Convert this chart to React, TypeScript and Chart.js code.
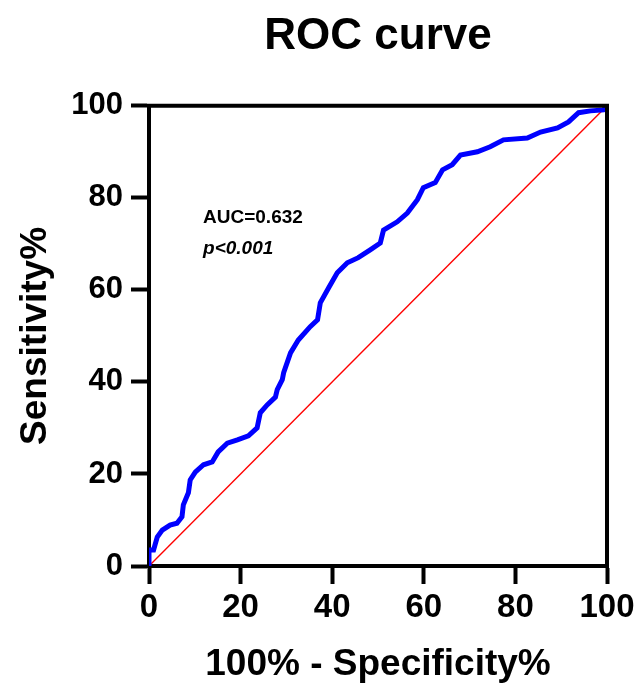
import React, { useEffect, useRef } from "react";
import { Chart, registerables } from "chart.js";

Chart.register(...registerables);

const FONT = "'Liberation Sans', Arial, Helvetica, sans-serif";

const titleText = "ROC curve";
const xTitle = "100% - Specificity%";
const yTitle = "Sensitivity%";

// 100% - Specificity% (false positive rate)
const fpr = [
  0, 0, 1, 1.8, 2.9, 4.6, 6.1, 7.2, 7.5, 8.6, 9, 10.1, 11.9, 13.8, 15.1, 17.1,
  19.3, 21.7, 23.6, 24.3, 25.8, 27.6, 28, 29.1, 29.4, 30.9, 32.6, 35.2, 36.8,
  37.4, 39.2, 41.1, 43.3, 45.7, 48.3, 50.5, 51.2, 54.2, 56.4, 58.6, 59.9, 62.5,
  64.1, 66.2, 68, 71.7, 74.5, 77.4, 82.6, 85.5, 89.2, 91.6, 93.8, 96.4, 99.2, 100,
];
// Sensitivity%
const tpr = [
  0, 3.5, 3.5, 6.3, 7.8, 8.9, 9.3, 10.7, 13.3, 15.9, 18.7, 20.4, 22, 22.6, 24.8,
  26.7, 27.4, 28.3, 30, 33.3, 35, 36.7, 38.3, 40.5, 42, 46.3, 49.1, 52, 53.5,
  57.2, 60.4, 63.7, 65.9, 67, 68.7, 70.2, 73, 74.8, 76.7, 79.6, 82.2, 83.3, 86.1,
  87.2, 89.3, 90, 91.1, 92.6, 93, 94.3, 95.2, 96.5, 98.5, 98.9, 99.1, 100,
];

const refX = [0, 100];
const refY = [0, 100];

const aucLabel = "AUC=0.632";
const pLabel = "p<0.001";

export default function App() {
  const ref = useRef<HTMLCanvasElement | null>(null);

  useEffect(() => {
    if (!ref.current) return;

    const framePlugin = {
      id: "frame",
      afterDatasetsDraw(chart: any) {
        const { ctx, chartArea } = chart;
        ctx.save();
        ctx.strokeStyle = "#000";
        ctx.lineWidth = 4;
        ctx.lineCap = "square";
        ctx.beginPath();
        ctx.moveTo(chartArea.left, chartArea.top);
        ctx.lineTo(chartArea.right, chartArea.top);
        ctx.lineTo(chartArea.right, chartArea.bottom);
        ctx.stroke();
        ctx.restore();
      },
      afterDraw(chart: any) {
        const { ctx } = chart;
        const xs = chart.scales.x;
        const ys = chart.scales.y;
        ctx.save();
        ctx.fillStyle = "#000";
        ctx.textAlign = "left";
        ctx.textBaseline = "alphabetic";
        ctx.font = `bold 19px ${FONT}`;
        ctx.fillText(aucLabel, xs.getPixelForValue(11.8), ys.getPixelForValue(74.6));
        ctx.font = `italic bold 19px ${FONT}`;
        ctx.fillText(pLabel, xs.getPixelForValue(11.8), ys.getPixelForValue(67.8));
        ctx.restore();
      },
    };

    const chart = new Chart(ref.current, {
      type: "line",
      data: {
        datasets: [
          {
            label: "ROC",
            data: fpr.map((x, i) => ({ x, y: tpr[i] })),
            borderColor: "#0000ff",
            borderWidth: 5,
            pointRadius: 0,
            tension: 0,
            fill: false,
            order: 1,
          },
          {
            label: "Reference",
            data: refX.map((x, i) => ({ x, y: refY[i] })),
            borderColor: "#ff0000",
            borderWidth: 1.4,
            pointRadius: 0,
            fill: false,
            order: 2,
          },
        ],
      },
      options: {
        animation: false,
        responsive: true,
        maintainAspectRatio: false,
        layout: { padding: { top: 0, right: 34, bottom: 0, left: 0 } },
        plugins: {
          legend: { display: false },
          tooltip: { enabled: false },
          title: {
            display: true,
            text: titleText,
            fullSize: false,
            color: "#000",
            font: { family: FONT, size: 44, weight: "bold" },
            padding: { top: 10, bottom: 43 },
          },
        },
        scales: {
          x: {
            type: "linear",
            min: 0,
            max: 100,
            afterFit(scale: any) {
              scale.height = 119;
            },
            ticks: {
              stepSize: 20,
              color: "#000",
              padding: 4,
              maxRotation: 0,
              font: { family: FONT, size: 33, weight: "bold" },
            },
            grid: {
              drawOnChartArea: false,
              drawTicks: true,
              tickLength: 18,
              tickWidth: 4,
              tickColor: "#000",
            },
            border: { display: true, color: "#000", width: 4 },
            title: {
              display: true,
              text: xTitle,
              color: "#000",
              font: { family: FONT, size: 37, weight: "bold" },
              padding: { top: 0, bottom: -2 },
            },
          },
          y: {
            type: "linear",
            min: 0,
            max: 100,
            afterFit(scale: any) {
              scale.width = 149;
            },
            ticks: {
              stepSize: 20,
              color: "#000",
              padding: 8,
              font: { family: FONT, size: 31, weight: "bold" },
            },
            grid: {
              drawOnChartArea: false,
              drawTicks: true,
              tickLength: 18,
              tickWidth: 4,
              tickColor: "#000",
            },
            border: { display: true, color: "#000", width: 4 },
            title: {
              display: true,
              text: yTitle,
              color: "#000",
              font: { family: FONT, size: 37, weight: "bold" },
              padding: { top: 14, bottom: 0 },
            },
          },
        },
      },
      plugins: [framePlugin],
    });

    return () => chart.destroy();
  }, []);

  return (
    <div style={{ position: "fixed", left: 0, top: 0, width: 641, height: 685, background: "#fff" }}>
      <canvas ref={ref} />
    </div>
  );
}
